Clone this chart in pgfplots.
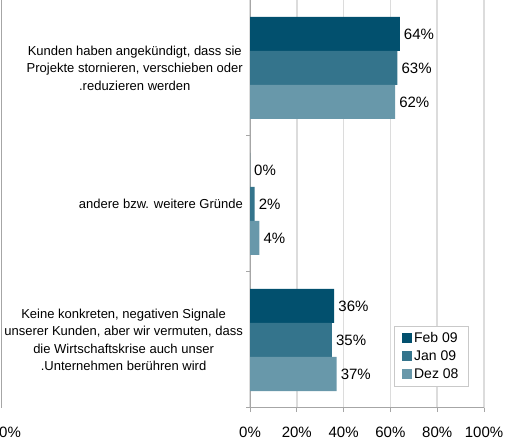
\documentclass[border=0pt]{standalone}
\usepackage{fontspec}
\setmainfont{Liberation Sans}
\usepackage{pgfplots}
\pgfplotsset{compat=1.18}
\definecolor{cFeb}{HTML}{02506E}
\definecolor{cJan}{HTML}{34748C}
\definecolor{cDez}{HTML}{6898AA}
\definecolor{axgray}{HTML}{A6A6A6}
\definecolor{gridgray}{HTML}{DCDCDC}

\begin{document}
\begin{tikzpicture}[x=1pt,y=1pt]
\path[use as bounding box] (0,0) rectangle (508,441);
% stray axis of the mirrored chart at the far left
\draw[axgray, line width=1pt] (1,33) -- (1,441);
\node[anchor=base west, inner sep=0pt, font=\fontsize{15}{18}\selectfont] at (-1,3.5) {0\%};
\begin{axis}[
    at={(250pt,33pt)}, anchor=south west,
    scale only axis, width=234pt, height=408pt,
    xbar, bar width=34pt,
    xmin=0, xmax=100,
    ymin=-0.5, ymax=2.5,
    axis x line*=bottom, axis y line*=left,
    axis line style={axgray, line width=1pt},
    xtick={0,20,...,100},
    xticklabel={\pgfmathprintnumber{\tick}\%},
    /pgf/number format/assume math mode=true,
    xticklabel style={font=\fontsize{15}{18}\selectfont, anchor=base, yshift=-25pt},
    xmajorgrids, grid style={gridgray, line width=1.5pt},
    tick align=outside, major tick length=4pt,
    tick style={axgray, line width=1pt},
    ytick={-0.5,0.5,1.5,2.5}, yticklabels={,,,},
    extra y ticks={0,1,2},
    extra y tick labels={
        {Keine konkreten, negativen Signale\\unserer Kunden, aber wir vermuten, dass\\die Wirtschaftskrise auch unser\\.Unternehmen berühren wird},
        {andere bzw. weitere Gründe},
        {Kunden haben angekündigt, dass sie\\Projekte stornieren, verschieben oder\\.reduzieren werden}},
    extra y tick style={tick style={draw=none},
        yticklabel style={align=center, anchor=east, inner sep=3pt,
            font=\fontsize{13}{17.5}\selectfont}},
    nodes near coords={\pgfmathprintnumber{\pgfplotspointmeta}\%},
    every node near coord/.append style={font=\fontsize{15}{18}\selectfont, black, anchor=west, inner sep=4pt},
    legend style={at={(0.615,0.054)}, anchor=south west, draw=gridgray!80!gray,
        font=\fontsize{14}{17}\selectfont, inner xsep=8pt, inner ysep=4pt,
        row sep=2.5pt},
    legend cell align=left,
    legend image code/.code={\fill[#1] (0pt,-5pt) rectangle (10pt,5pt);},
]
\addplot[fill=cFeb, draw=none, bar shift=34pt] coordinates {(64,2) (0,1) (36,0)};
\addplot[fill=cJan, draw=none, bar shift=0pt] coordinates {(63,2) (2,1) (35,0)};
\addplot[fill=cDez, draw=none, bar shift=-34pt] coordinates {(62,2) (4,1) (37,0)};
\legend{Feb 09, Jan 09, Dez 08}
\end{axis}
\end{tikzpicture}
\end{document}
